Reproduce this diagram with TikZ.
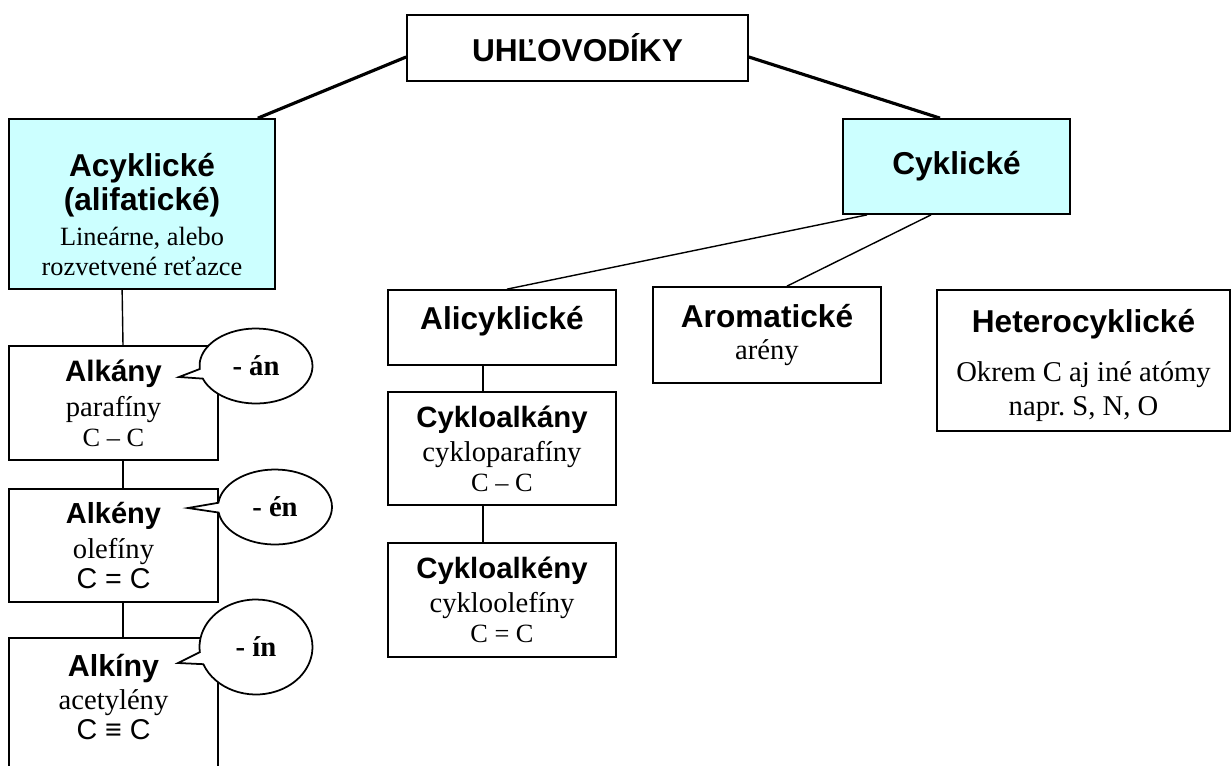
\documentclass[tikz,border=0pt]{standalone}
\usepackage{fontspec}
\setmainfont{Liberation Serif}
\newfontfamily\nadpis{Liberation Sans}
\usetikzlibrary{shapes.callouts}
\definecolor{svetlomodra}{HTML}{CCFFFF}
\newcommand{\nazov}[2][18]{{\nadpis\bfseries\fontsize{#1}{20}\selectfont #2}}
\newcommand{\vzorec}[1]{{\nadpis\fontsize{16.3}{18}\selectfont #1}}
\newcommand{\mensie}[1]{{\fontsize{15}{17}\selectfont #1}}
\begin{document}
\begin{tikzpicture}[x=0.02cm,y=-0.02cm]
\tikzset{
    skupina/.style={draw, line width=1pt, align=center, inner sep=0pt, fill=white, font=\fontsize{16.3}{17}\selectfont},
    modra/.style={skupina, fill=svetlomodra},
    hrubo/.style={line width=1.8pt},
    spoj/.style={line width=0.8pt},
    bublina/.style={ellipse callout, draw, fill=white, line width=1pt, inner sep=0pt, font=\fontsize{16.3}{18}\selectfont\bfseries}
}
\useasboundingbox (0,0) rectangle (1231,765);
\node[skupina, minimum width=6.82cm, minimum height=1.32cm] (uhlo) at (577.5,48) {\nazov{UHĽOVODÍKY}};
\node[modra, minimum width=5.32cm, minimum height=3.4cm] (acyk) at (142,204) {\rule{0pt}{25pt}\nazov{Acyklické}\\[2.4pt] \nazov{(alifatické)}\\[3pt] \mensie{Lineárne, alebo}\\ \mensie{rozvetvené reťazce}};
\node[modra, minimum width=4.54cm, minimum height=1.9cm] (cyk) at (956.5,166.5) {\nazov{Cyklické}};
\node[skupina, minimum width=4.56cm, minimum height=1.5cm] (alicyk) at (502,327.5) {\nazov{Alicyklické}\rule[-10.5pt]{0pt}{10.5pt}};
\node[skupina, minimum width=4.56cm, minimum height=2.26cm] (cykloalkany) at (502,448.5) {\nazov[16.7]{Cykloalkány}\\[2.5pt] cykloparafíny\\ \mensie{C – C}};
\node[skupina, minimum width=4.56cm, minimum height=2.28cm] (cykloalkeny) at (502,600) {\nazov[16.7]{Cykloalkény}\\[2.5pt] cykloolefíny\\ \mensie{C = C}};
\node[skupina, minimum width=4.56cm, minimum height=1.92cm] (arom) at (767,335) {\nazov{Aromatické}\\[1pt] arény};
\node[skupina, minimum width=5.86cm, minimum height=2.82cm] (hetero) at (1083.5,360.5) {\rule{0pt}{18.5pt}\nazov{Heterocyklické}\\[11pt] Okrem C aj iné atómy\\[2pt] napr.\ S, N, O};
\node[skupina, minimum width=4.18cm, minimum height=2.28cm] (alkany) at (113.5,403) {\nazov[16.8]{Alkány}\\[3pt] parafíny\\ \mensie{C – C}};
\node[skupina, minimum width=4.18cm, minimum height=2.26cm] (alkeny) at (113.5,545.5) {\nazov[16.5]{Alkény}\\[3pt] olefíny\\ \vzorec{C = C}};
\node[skupina, minimum width=4.18cm, minimum height=2.6cm] (alkiny) at (113.5,703) {\nazov[17.3]{Alkíny}\\[2pt] acetylény\\ \vzorec{C ≡ C}\rule[-7pt]{0pt}{7pt}};
\draw[hrubo] (uhlo.183) -- ([xshift=-0.36cm]acyk.north east);
\draw[hrubo] (uhlo.357) -- ([xshift=-0.33cm]cyk.north);
\draw[spoj] ([xshift=-1.79cm]cyk.south) -- ([xshift=0.1cm]alicyk.north);
\draw[spoj] ([xshift=-0.51cm]cyk.south) -- ([xshift=0.4cm]arom.north);
\draw[spoj] ([xshift=2.28cm]acyk.south west) -- ([xshift=0.19cm]alkany.north);
\draw[spoj] ([xshift=0.19cm]alkany.south) -- ([xshift=0.19cm]alkeny.north);
\draw[spoj] ([xshift=0.19cm]alkeny.south) -- ([xshift=0.19cm]alkiny.north);
\draw[spoj] ([xshift=-0.38cm]alicyk.south) -- ([xshift=-0.38cm]cykloalkany.north);
\draw[spoj] ([xshift=-0.38cm]cykloalkany.south) -- ([xshift=-0.38cm]cykloalkeny.north);
\node[bublina, minimum width=2.26cm, minimum height=1.5cm, callout absolute pointer={(179,377)}] (an) at (256,366) {- án};
\node[bublina, minimum width=2.28cm, minimum height=1.5cm, callout absolute pointer={(188,508)}] (en) at (275,507) {- én};
\node[bublina, minimum width=2.26cm, minimum height=1.9cm, callout absolute pointer={(178,663)}] (in) at (256,647) {- ín};
\end{tikzpicture}
\end{document}
